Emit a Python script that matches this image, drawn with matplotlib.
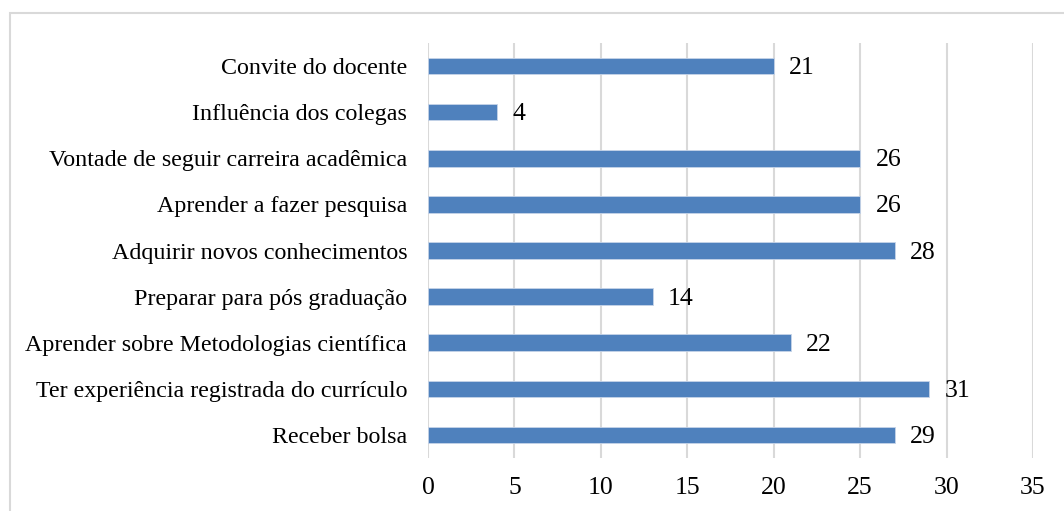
import matplotlib.pyplot as plt
from matplotlib.patches import Rectangle

# ── data (top to bottom as shown) ─────────────────────────────────────────────
categories = [
    'Convite do docente',
    'Influência dos colegas',
    'Vontade de seguir carreira acadêmica',
    'Aprender a fazer pesquisa',
    'Adquirir novos conhecimentos',
    'Preparar para pós graduação',
    'Aprender sobre Metodologias científica',
    'Ter experiência registrada do currículo',
    'Receber bolsa',
]
# bar lengths as drawn in the original
bar_values = [20, 4, 25, 25, 27, 13, 21, 29, 27]
# data labels printed next to the bars
label_values = [21, 4, 26, 26, 28, 14, 22, 31, 29]
x_ticks = [0, 5, 10, 15, 20, 25, 30, 35]

plt.rcParams['font.family'] = ['Liberation Serif', 'DejaVu Serif']

fig = plt.figure(figsize=(10.64, 5.11), dpi=100)
ax = fig.add_axes([0.4023, 0.1037, 0.5686, 0.8121])

# outer chart border (clipped by the image on the right and bottom)
fig.patches.append(Rectangle((10 / 1064, -0.1), 1.2, 1 - 13 / 511 + 0.1,
                             transform=fig.transFigure, fill=False,
                             edgecolor='#d9d9d9', linewidth=1.5))

ypos = list(range(len(categories)))
ax.barh(ypos, bar_values, height=0.36, color='#4f81bd',
        edgecolor='#c6d4e8', linewidth=0.6, zorder=3)

for y, v, lab in zip(ypos, bar_values, label_values):
    ax.annotate(str(lab), (v, y), xytext=(11, -1.5), textcoords='offset points',
                ha='left', va='center', fontsize=18.5, color='#000000')

ax.set_yticks(ypos)
ax.set_yticklabels(categories, fontsize=17.3)
ax.set_ylim(len(categories) - 0.5, -0.5)
ax.set_xlim(0, 35)
ax.set_xticks(x_ticks)
ax.set_xticklabels([str(t) for t in x_ticks], fontsize=18.5)

ax.grid(axis='x', color='#d9d9d9', linewidth=1.5, zorder=0)
ax.set_axisbelow(True)
for s in ax.spines.values():
    s.set_visible(False)
ax.tick_params(axis='y', length=0, pad=15)
ax.tick_params(axis='x', length=0, pad=14)

fig.savefig('out.png', dpi=100)
